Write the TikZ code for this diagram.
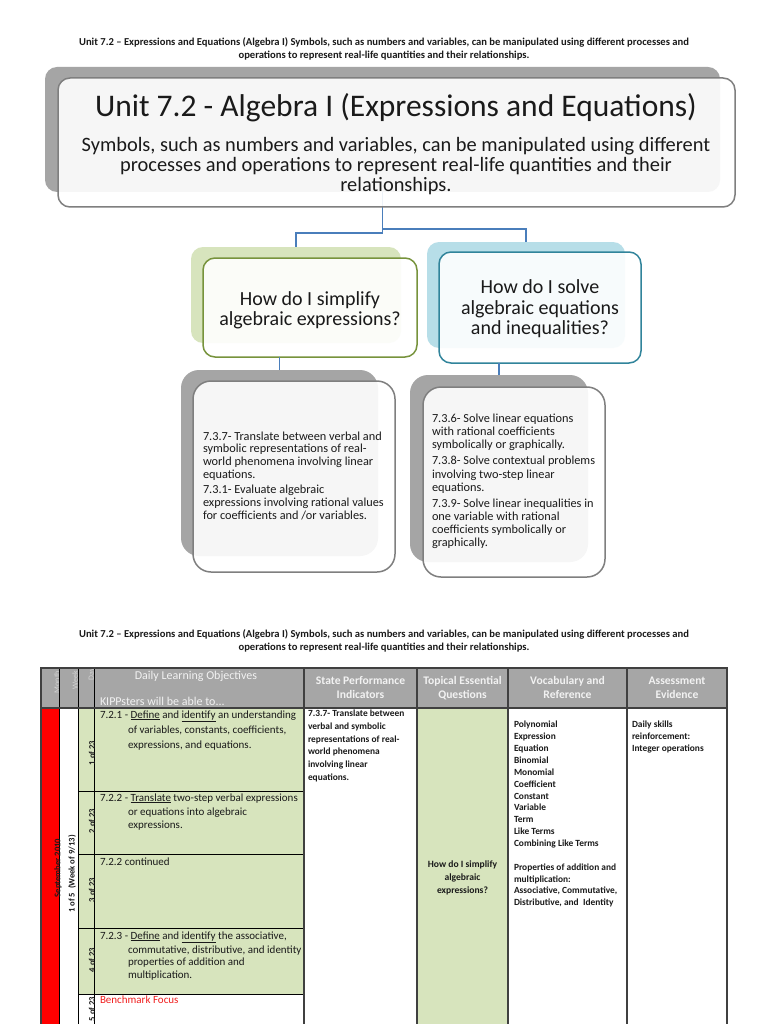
\documentclass[tikz,border=0pt]{standalone}
\usepackage{fontspec}
\setmainfont{Carlito}
\definecolor{conncol}{HTML}{4A7EBB}
\definecolor{shgray}{HTML}{A5A5A5}
\definecolor{bordgray}{HTML}{7F7F7F}
\definecolor{gshade}{HTML}{D7E4BD}
\definecolor{gbord}{HTML}{77933C}
\definecolor{bshade}{HTML}{B7DEE8}
\definecolor{bbord}{HTML}{31849B}
\definecolor{tgreen}{HTML}{D7E4BD}
\definecolor{thead}{HTML}{A6A6A6}
\definecolor{tline}{HTML}{404040}
\definecolor{htext}{HTML}{F2F2F2}
\definecolor{hlabel}{HTML}{D3D3D3}
\definecolor{txt}{HTML}{1A1A1A}
\definecolor{bench}{HTML}{F01E1E}
\begin{document}
\begin{tikzpicture}[x=1pt,y=-1pt,
  every node/.style={inner sep=0pt, outer sep=0pt, text=txt},
  boxshape/.style={rectangle, anchor=north west, draw=none},
  frontbox/.style={boxshape, fill=white, fill opacity=0.9, text opacity=1, line width=1.5pt},
  conn/.style={draw=conncol, line width=1.6pt},
  hd/.style={anchor=base, font=\bfseries\fontsize{10.6}{12}\selectfont},
  bigtxt/.style={anchor=base, font=\fontsize{20.4}{22}\selectfont},
  qtxt/.style={anchor=base, font=\fontsize{20}{22}\selectfont},
  lowtxt/.style={anchor=base west, font=\fontsize{12.3}{14}\selectfont},
  objtxt/.style={anchor=base west, font=\fontsize{11}{13}\selectfont},
  smalltxt/.style={anchor=base west, font=\bfseries\fontsize{9.4}{11}\selectfont},
  tqtxt/.style={anchor=base, font=\bfseries\fontsize{9.6}{11}\selectfont},
  thtxt/.style={anchor=base, text=htext, font=\bfseries\fontsize{11.6}{13}\selectfont},
  rotlab/.style={rotate=90, font=\bfseries\fontsize{8.6}{10}\selectfont},
  hlab/.style={rotate=90, anchor=east, text=hlabel, font=\fontsize{8}{9}\selectfont},
  grid/.style={draw=tline, line width=1.2pt},
  thin/.style={draw=black, line width=0.8pt}]
\useasboundingbox (0,0) rectangle (768,1024);
\clip (0,0) rectangle (768,1024);
\fill[white] (0,0) rectangle (768,1024);

% ---------- top header text ----------
\node[hd] (h1) at (384,45.5) {Unit 7.2 – Expressions and Equations (Algebra I) Symbols, such as numbers and variables, can be manipulated using different processes and};
\node[hd] (h2) at (384,58.5) {operations to represent real-life quantities and their relationships.};

% ---------- shadows ----------
\node[boxshape, fill=shgray, rounded corners=12pt, minimum width=675pt, minimum height=125pt] (bigsh) at (45,67) {};
\node[boxshape, fill=gshade, rounded corners=12pt, minimum width=210pt, minimum height=96pt] (gsh) at (191,247) {};
\node[boxshape, fill=bshade, rounded corners=12pt, minimum width=198pt, minimum height=106pt] (bsh) at (427,242) {};
\node[boxshape, fill=shgray, rounded corners=18pt, minimum width=197pt, minimum height=186pt] (lsh) at (181,370) {};
\node[boxshape, fill=shgray, rounded corners=18pt, minimum width=178pt, minimum height=187pt] (rsh) at (410,375) {};

% ---------- connectors ----------
\draw[conn] (bigsh.south) -- ++(0,41) -| (gsh.north);
\draw[conn] (bigsh.south) -- ++(0,37) -| (bsh.north);

% ---------- front boxes ----------
\node[frontbox, draw=bordgray, rounded corners=12pt, minimum width=677pt, minimum height=129pt] (bigfr) at (58,78) {};
\node[frontbox, draw=gbord, rounded corners=12pt, minimum width=214pt, minimum height=99pt] (gfr) at (203,258) {};
\node[frontbox, draw=bbord, rounded corners=12pt, minimum width=202pt, minimum height=111pt] (bfr) at (439,252) {};

\draw[conn] (lsh.north |- gfr.south) -- (lsh.north);
\draw[conn] (rsh.north |- bfr.south) -- (rsh.north);

\node[frontbox, draw=bordgray, rounded corners=18pt, minimum width=202pt, minimum height=191pt] (lfr) at (193,381) {};
\node[frontbox, draw=bordgray, rounded corners=18pt, minimum width=182pt, minimum height=190pt] (rfr) at (423,387) {};

% ---------- big box text ----------
\node[anchor=base, font=\fontsize{31.5}{34}\selectfont] (title) at (396,116.5) {Unit 7.2 - Algebra I (Expressions and Equations)};
\node[bigtxt] (sub1) at (396,151.7) {Symbols, such as numbers and variables, can be manipulated using different};
\node[bigtxt] (sub2) at (396,171.2) {processes and operations to represent real-life quantities and their};
\node[bigtxt] (sub3) at (396,191.2) {relationships.};

% ---------- question boxes text ----------
\node[qtxt] (q1a) at (310,305.6) {How do I simplify};
\node[qtxt] (q1b) at (310,325.6) {algebraic expressions?};
\node[qtxt] (q2a) at (540,293.6) {How do I solve};
\node[qtxt] (q2b) at (540,314.6) {algebraic equations};
\node[qtxt] (q2c) at (540,334.6) {and inequalities?};

% ---------- lower boxes text ----------
\node[lowtxt] (l1) at (203,440) {7.3.7- Translate between verbal and};
\node[lowtxt] (l2) at (203,452.5) {symbolic representations of real-};
\node[lowtxt] (l3) at (203,465.5) {world phenomena involving linear};
\node[lowtxt] (l4) at (203,478.5) {equations.};
\node[lowtxt] (l5) at (203,493.5) {7.3.1- Evaluate algebraic};
\node[lowtxt] (l6) at (203,506.5) {expressions involving rational values};
\node[lowtxt] (l7) at (203,519.5) {for coefficients and /or variables.};

\node[lowtxt] (r1) at (432,422) {7.3.6- Solve linear equations};
\node[lowtxt] (r2) at (432,435) {with rational coefficients};
\node[lowtxt] (r3) at (432,448.5) {symbolically or graphically.};
\node[lowtxt] (r4) at (432,464.5) {7.3.8- Solve contextual problems};
\node[lowtxt] (r5) at (432,478.5) {involving two-step linear};
\node[lowtxt] (r6) at (432,491.5) {equations.};
\node[lowtxt] (r7) at (432,507.5) {7.3.9- Solve linear inequalities in};
\node[lowtxt] (r8) at (432,520.5) {one variable with rational};
\node[lowtxt] (r9) at (432,533.5) {coefficients symbolically or};
\node[lowtxt] (r10) at (432,546.5) {graphically.};

% ---------- second header text ----------
\node[hd] (h3) at (384,637.5) {Unit 7.2 – Expressions and Equations (Algebra I) Symbols, such as numbers and variables, can be manipulated using different processes and};
\node[hd] (h4) at (384,650.5) {operations to represent real-life quantities and their relationships.};

% ---------- table fills ----------
\fill[thead] (41,668) rectangle (727,708);
\fill[red] (41,708) rectangle (59,1030);
\fill[tgreen] (78,708) rectangle (304,994);
\fill[tgreen] (417,708) rectangle (508,1030);

% header labels
\node[hlab] (hm) at (57,671) {Month};
\node[hlab] (hw) at (75,671) {Week};
\node[hlab] (hdy) at (92,668) {Day};
\node[anchor=base, text=htext, font=\fontsize{12}{14}\selectfont] (hobj) at (196,679) {Daily Learning Objectives};
\node[anchor=base west, text=htext, font=\fontsize{12}{14}\selectfont] (hkipp) at (100,705) {KIPPsters will be able to...};
\node[thtxt] (hs1) at (360.5,684) {State Performance};
\node[thtxt] (hs2) at (360.5,698) {Indicators};
\node[thtxt] (ht1) at (462.5,684) {Topical Essential};
\node[thtxt] (ht2) at (462.5,698) {Questions};
\node[thtxt] (hv1) at (567.5,684) {Vocabulary and};
\node[thtxt] (hv2) at (567.5,698) {Reference};
\node[thtxt] (ha1) at (677,684) {Assessment};
\node[thtxt] (ha2) at (677,698) {Evidence};

% grid lines
\draw[thin] (59,668) -- (59,1030);
\draw[thin] (78,668) -- (78,1030);
\draw[thin] (94,668) -- (94,1030);
\draw[thin] (78,791) -- (304,791);
\draw[thin] (78,854) -- (304,854);
\draw[thin] (78,928) -- (304,928);
\draw[thin] (78,994) -- (304,994);
\draw[grid] (41,1030) -- (41,668) -- (727,668) -- (727,1030);
\draw[grid] (41,708) -- (727,708);
\draw[grid] (304,668) -- (304,1030);
\draw[grid] (417,668) -- (417,1030);
\draw[grid] (508,668) -- (508,1030);
\draw[grid] (627,668) -- (627,1030);

% rotated row labels
\node[rotlab] (mon) at (58,868) {September 2010};
\node[rotlab] (wk) at (72,874) {1 of 5 \ (Week of 9/13)};
\node[rotlab] (d1) at (92,753) {1 of 23};
\node[rotlab] (d2) at (92,821) {2 of 23};
\node[rotlab] (d3) at (92,890) {3 of 23};
\node[rotlab] (d4) at (92,960) {4 of 23};
\node[rotlab] (d5) at (92,1009) {5 of 23};

% objectives
\node[objtxt] (o1) at (100,718) {7.2.1 - \underline{Define} and \underline{identify} an understanding};
\node[objtxt] (o2) at (128,733) {of variables, constants, coefficients,};
\node[objtxt] (o3) at (128,748) {expressions, and equations.};
\node[objtxt] (o4) at (100,801) {7.2.2 - \underline{Translate} two-step verbal expressions};
\node[objtxt] (o5) at (128,815) {or equations into algebraic};
\node[objtxt] (o6) at (128,828.5) {expressions.};
\node[objtxt] (o7) at (100,865) {7.2.2 continued};
\node[objtxt] (o8) at (100,939) {7.2.3 - \underline{Define} and \underline{identify} the associative,};
\node[objtxt] (o9) at (128,953) {commutative, distributive, and identity};
\node[objtxt] (o10) at (128,965.5) {properties of addition and};
\node[objtxt] (o11) at (128,978.5) {multiplication.};
\node[objtxt, text=bench] (o12) at (100,1003) {Benchmark Focus};

% state performance indicators
\node[smalltxt] (s1) at (308,716.5) {7.3.7- Translate between};
\node[smalltxt] (s2) at (308,729.5) {verbal and symbolic};
\node[smalltxt] (s3) at (308,742) {representations of real-};
\node[smalltxt] (s4) at (308,754.5) {world phenomena};
\node[smalltxt] (s5) at (308,767.5) {involving linear};
\node[smalltxt] (s6) at (308,780.5) {equations.};

% topical question
\node[tqtxt] (tq1) at (462.5,867.5) {How do I simplify};
\node[tqtxt] (tq2) at (462.5,880.5) {algebraic};
\node[tqtxt] (tq3) at (462.5,893.5) {expressions?};

% vocabulary
\node[smalltxt] (v1) at (514,727) {Polynomial};
\node[smalltxt] (v2) at (514,739) {Expression};
\node[smalltxt] (v3) at (514,751) {Equation};
\node[smalltxt] (v4) at (514,763) {Binomial};
\node[smalltxt] (v5) at (514,775) {Monomial};
\node[smalltxt] (v6) at (514,787) {Coefficient};
\node[smalltxt] (v7) at (514,799) {Constant};
\node[smalltxt] (v8) at (514,810) {Variable};
\node[smalltxt] (v9) at (514,822) {Term};
\node[smalltxt] (v10) at (514,834) {Like Terms};
\node[smalltxt] (v11) at (514,846) {Combining Like Terms};
\node[smalltxt] (v12) at (514,870) {Properties of addition and};
\node[smalltxt] (v13) at (514,882) {multiplication:};
\node[smalltxt] (v14) at (514,893) {Associative, Commutative,};
\node[smalltxt] (v15) at (514,905) {Distributive, and \ Identity};

% assessment
\node[smalltxt] (a1) at (632,727) {Daily skills};
\node[smalltxt] (a2) at (632,739) {reinforcement:};
\node[smalltxt] (a3) at (632,751) {Integer operations};
\end{tikzpicture}
\end{document}
